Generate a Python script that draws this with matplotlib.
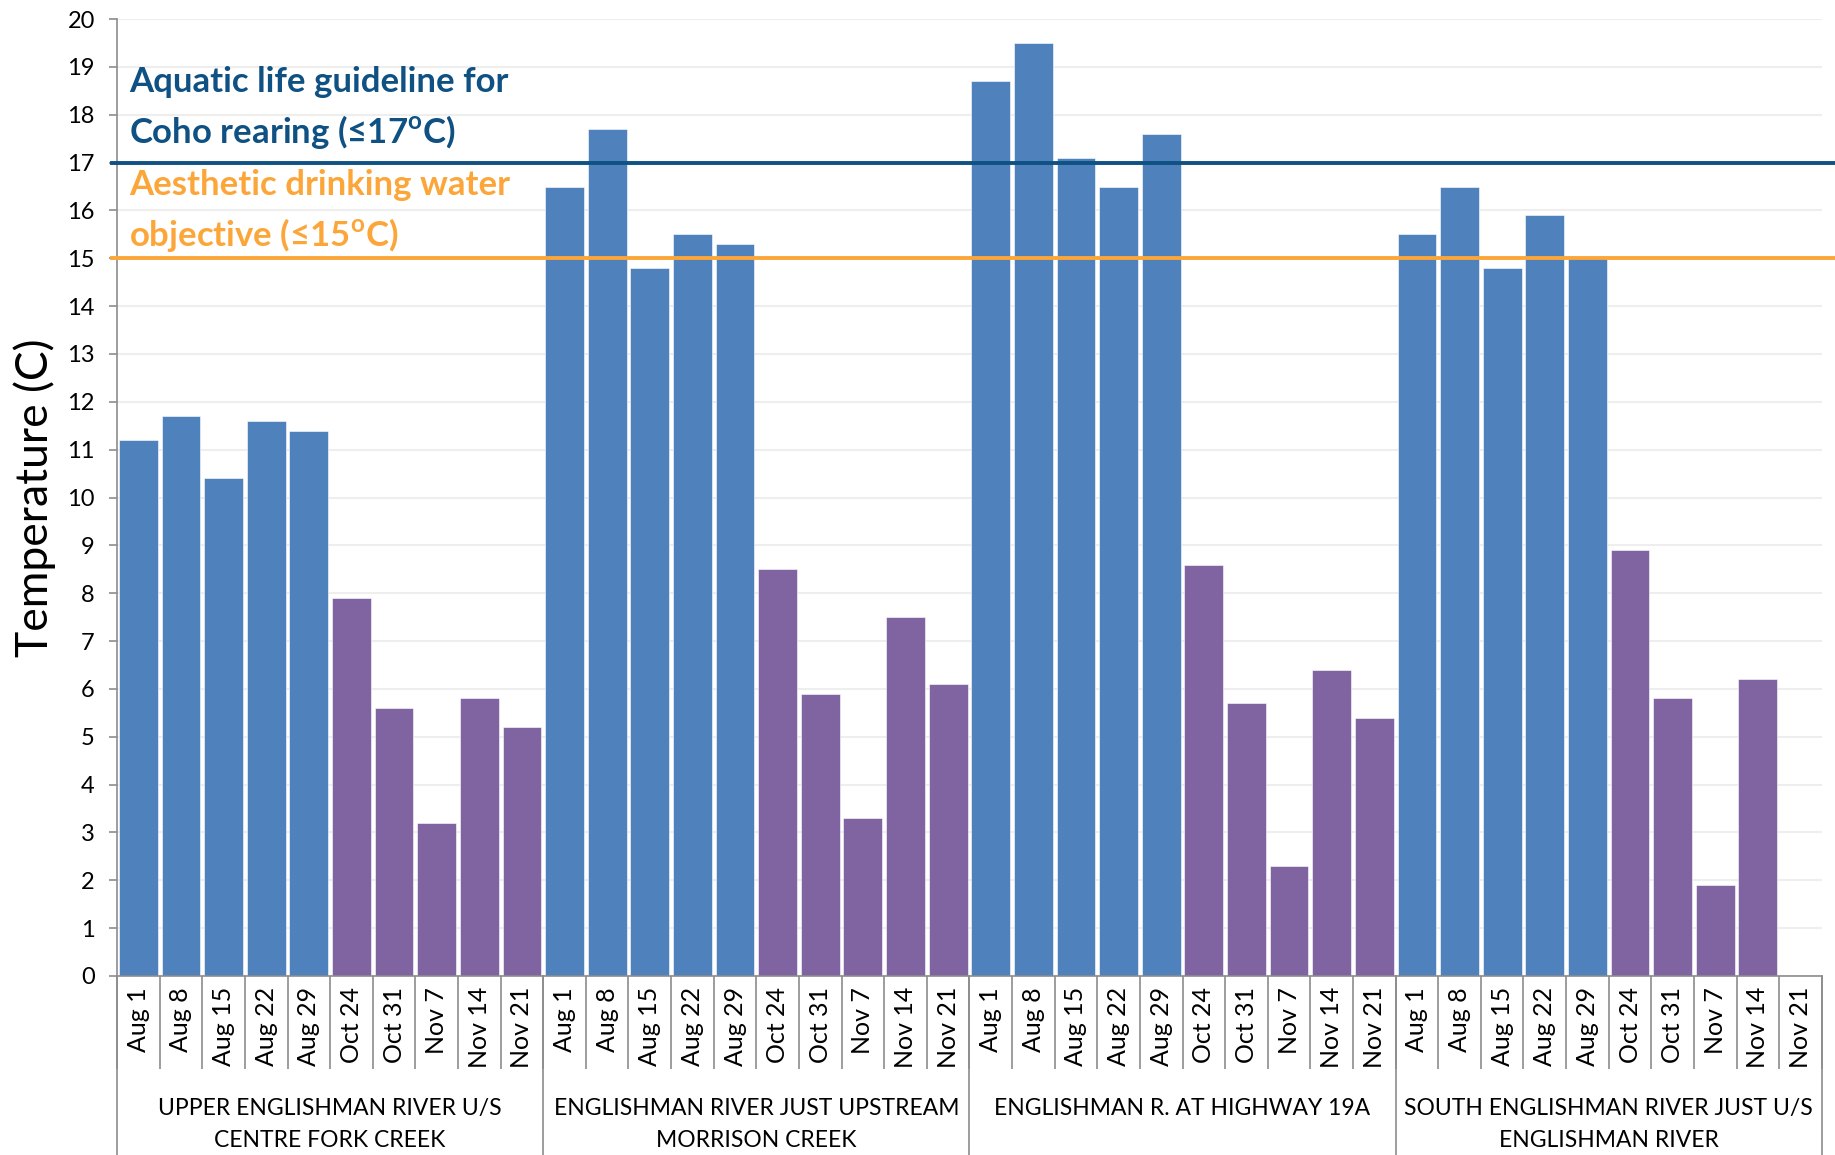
import numpy as np
import matplotlib
matplotlib.use('Agg')
import matplotlib.pyplot as plt
from matplotlib.transforms import blended_transform_factory

plt.rcParams['font.family'] = ['Lato', 'DejaVu Sans']
plt.rcParams['mathtext.fontset'] = 'custom'
plt.rcParams['mathtext.bf'] = 'Lato:bold'
plt.rcParams['mathtext.rm'] = 'Lato'

## data
sites = ["UPPER ENGLISHMAN RIVER U/S\nCENTRE FORK CREEK",
         "ENGLISHMAN RIVER JUST UPSTREAM\nMORRISON CREEK",
         "ENGLISHMAN R. AT HIGHWAY 19A",
         "SOUTH ENGLISHMAN RIVER JUST U/S\nENGLISHMAN RIVER"]
dates = ["Aug 1", "Aug 8", "Aug 15", "Aug 22", "Aug 29",
         "Oct 24", "Oct 31", "Nov 7", "Nov 14", "Nov 21"]
upper_centre_fork = [11.2, 11.7, 10.4, 11.6, 11.4, 7.9, 5.6, 3.2, 5.8, 5.2]
upstream_morrison = [16.5, 17.7, 14.8, 15.5, 15.3, 8.5, 5.9, 3.3, 7.5, 6.1]
highway_19a = [18.7, 19.5, 17.1, 16.5, 17.6, 8.6, 5.7, 2.3, 6.4, 5.4]
south_englishman = [15.5, 16.5, 14.8, 15.9, 15.0, 8.9, 5.8, 1.9, 6.2, np.nan]
coho_limit = 17
drinking_limit = 15

blue = '#4F81BD'
purple = '#8064A2'
navy = '#0E5182'
orange = '#FCA63A'
grey = '#8C8C8C'

temps = [upper_centre_fork, upstream_morrison, highway_19a, south_englishman]
n = len(dates)

fig = plt.figure(figsize=(18.35, 11.55), dpi=100)
ax = fig.add_axes([0.0638, 0.155, 0.929, 0.8285])

labels = []
for g, vals in enumerate(temps):
    x = np.arange(n) + g * n
    cols = [blue if d.startswith('Aug') else purple for d in dates]
    ax.bar(x, vals, width=0.91, color=cols, edgecolor='white', linewidth=0.4, zorder=2)
    labels += dates

ax.set_xlim(-0.5, len(temps) * n - 0.5)
ax.set_ylim(0, 20)
ax.set_yticks(range(0, 21))
ax.set_xticks(np.arange(len(labels)))
ax.set_xticklabels(labels, rotation=90, fontsize=18)
ax.set_xticks(np.arange(len(labels) + 1) - 0.5, minor=True)
ax.tick_params(axis='x', which='major', length=0, pad=8)
ax.tick_params(axis='x', which='minor', length=67, color=grey, width=1.2)
ax.tick_params(axis='y', labelsize=17, length=6, color=grey, width=1.2, pad=10)
ax.grid(axis='y', color='#EEEEEE', linewidth=1.5, zorder=0)
ax.set_axisbelow(True)
for s in ['top', 'right']:
    ax.spines[s].set_visible(False)
for s in ['left', 'bottom']:
    ax.spines[s].set_color(grey)
    ax.spines[s].set_linewidth(1.2)

ax.set_ylabel('Temperature (C)', fontsize=32, labelpad=8)

# group separators and site names
trans = blended_transform_factory(ax.transData, fig.transFigure)
for g in range(len(temps) + 1):
    ax.plot([g * n - 0.5] * 2, [0.155, 0.0], transform=trans, color=grey,
            linewidth=1.2, clip_on=False)
for g, site in enumerate(sites):
    ax.text(g * n + (n - 1) / 2, 0.049, site, transform=trans, ha='center', va='top',
            fontsize=16.5, linespacing=1.65)

# guideline lines
ax.axhline(coho_limit, xmin=-0.003, xmax=1.01, color=navy, linewidth=2.8, clip_on=False, zorder=3)
ax.axhline(drinking_limit, xmin=-0.003, xmax=1.01, color=orange, linewidth=2.8, clip_on=False, zorder=3)
ax.text(-0.22, 18.13, 'Aquatic life guideline for\nCoho rearing (≤17$^\\mathbf{o}$C)',
        color=navy, fontsize=25, fontweight='bold', va='center', ha='left', linespacing=1.5)
ax.text(-0.22, 15.98, 'Aesthetic drinking water\nobjective (≤15$^\\mathbf{o}$C)',
        color=orange, fontsize=25, fontweight='bold', va='center', ha='left', linespacing=1.5)

fig.savefig('out.png', dpi=100)
